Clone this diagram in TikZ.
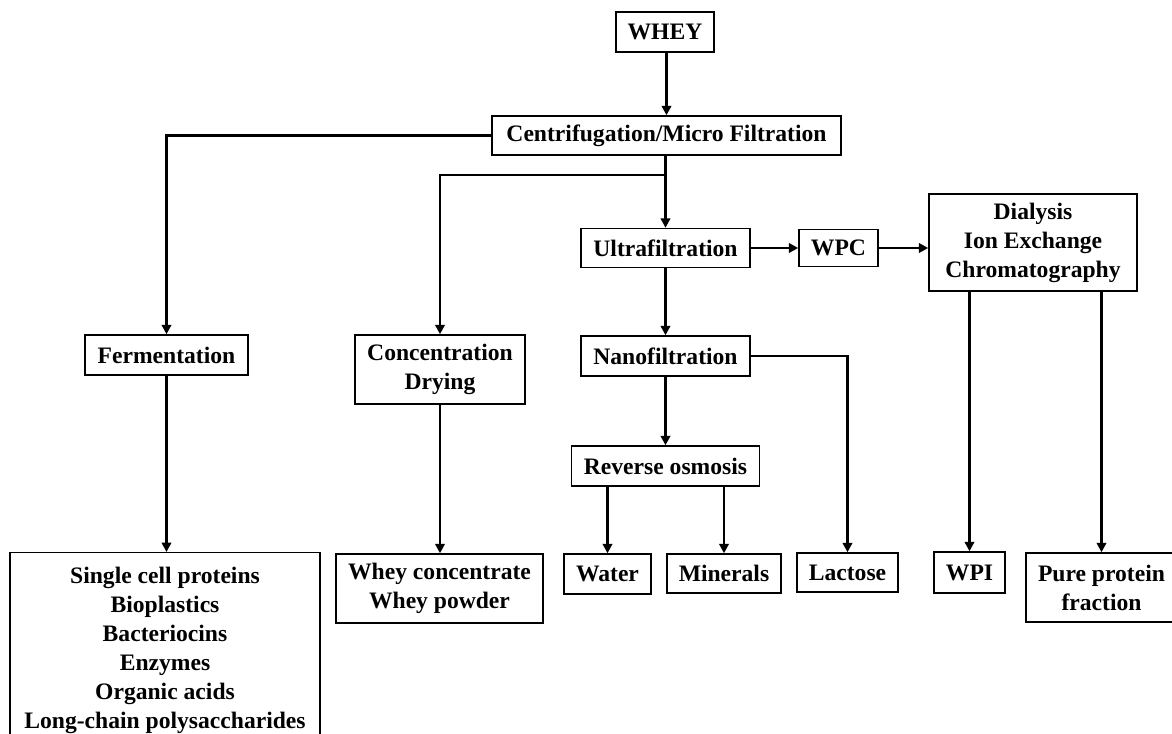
\documentclass[tikz,border=0pt]{standalone}
\usepackage{fontspec}
\setmainfont{Liberation Serif}
\usetikzlibrary{arrows.meta}
\tikzset{
  bx/.style 2 args={draw, line width=1.1pt, inner sep=0pt, align=center,
    minimum width=#1*0.75pt, minimum height=#2*0.75pt,
    font=\fontsize{17.7}{21.75}\selectfont\bfseries},
  conn/.style={line width=2.2pt, -{Triangle[length=7pt,width=7pt]}}
}
\begin{document}
\begin{tikzpicture}[x=0.75pt,y=-0.75pt]
\useasboundingbox (0,0) rectangle (1172,733);
\clip (0,0) rectangle (1172,733);
\fill[white] (0,0) rectangle (1172,733);
\node[bx={98}{40}] (whey) at (665,32) {WHEY};
\node[bx={349}{39}] (centri) at (666.5,135.5) {Centrifugation/Micro Filtration};
\node[bx={169}{39}] (ultra) at (665.5,248) {Ultrafiltration};
\node[bx={79}{37}] (wpc) at (838.5,248) {WPC};
\node[bx={208}{97}] (dial) at (1033,242.5) {Dialysis\\Ion Exchange\\Chromatography};
\node[bx={163}{40}] (ferm) at (166.5,355) {Fermentation};
\node[bx={170}{69}] (conc) at (440,369.5) {Concentration\\Drying};
\node[bx={169}{40}] (nano) at (665.5,356) {Nanofiltration};
\node[bx={188}{40}] (ro) at (665.5,466) {Reverse osmosis};
\node[bx={87}{40}] (water) at (607.5,574) {Water};
\node[bx={114}{39}] (minerals) at (724,573.5) {Minerals};
\node[bx={101}{39}] (lactose) at (847.5,572.5) {Lactose};
\node[bx={71}{41}] (wpi) at (969.5,572.5) {WPI};
\node[bx={151}{69}] (pure) at (1101.5,587.5) {Pure protein\\fraction};
\node[bx={207}{69}] (wconc) at (439.5,588.5) {Whey concentrate\\Whey powder};
\node[bx={310}{0}, anchor=north, inner ysep=11pt] (fprod) at (165,552) {Single cell proteins\\Bioplastics\\Bacteriocins\\Enzymes\\Organic acids\\Long-chain polysaccharides};
\coordinate (j1) at (665.5,175);
\draw[conn] (whey.south -| centri.north) -- (centri.north);
\draw[conn] (centri.west) -| (ferm.north);
\draw[conn] (ultra.north |- centri.south) -- (ultra.north);
\draw[conn] (j1) -| (conc.north);
\draw[conn] (ultra.east) -- (wpc.west);
\draw[conn] (wpc.east) -- (wpc.east -| dial.west);
\draw[conn] (ultra.south) -- (nano.north);
\draw[conn] (nano.east) -| (lactose.north);
\draw[conn] (nano.south) -- (ro.north);
\draw[conn] (ro.south -| water.north) -- (water.north);
\draw[conn] (ro.south -| minerals.north) -- (minerals.north);
\draw[conn] (ferm.south) -- (ferm.south |- fprod.north);
\draw[conn] (conc.south) -- (conc.south |- wconc.north);
\draw[conn] (dial.south -| wpi.north) -- (wpi.north);
\draw[conn] (dial.south -| pure.north) -- (pure.north);
\end{tikzpicture}
\end{document}
